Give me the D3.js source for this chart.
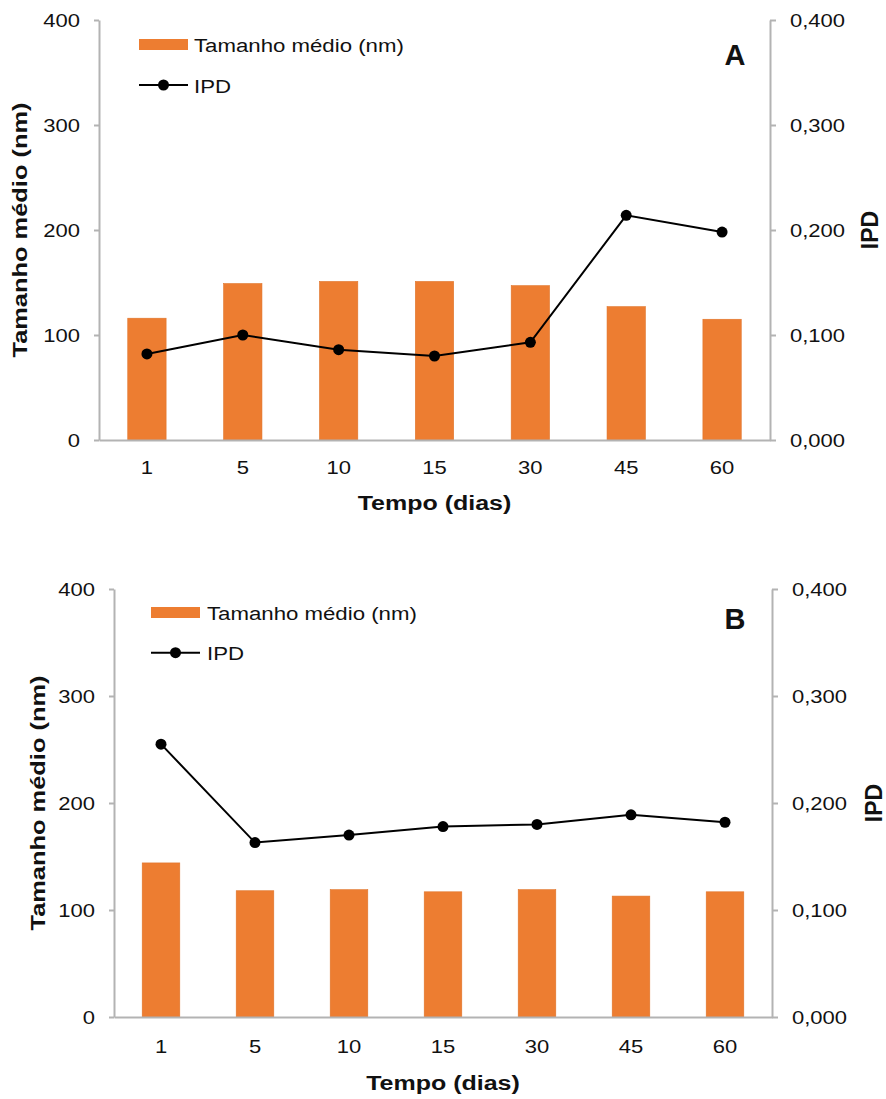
<!DOCTYPE html>
<html>
<head>
<meta charset="utf-8">
<script src="https://cdn.jsdelivr.net/npm/d3@7/dist/d3.min.js"></script>
<style>
  html, body { margin: 0; padding: 0; background: #fff; }
  svg { display: block; font-family: "Liberation Sans", Arial, sans-serif; }
</style>
</head>
<body>
<svg id="chart" width="886" height="1099"></svg>
<script>
// ---------------- DATA ----------------
const days = ["1", "5", "10", "15", "30", "45", "60"];
const sizeA = [116, 149, 151, 151, 147, 127, 115];
const ipdA  = [0.082, 0.100, 0.086, 0.080, 0.093, 0.214, 0.198];
const sizeB = [144, 118, 119, 117, 119, 113, 117];
const ipdB  = [0.255, 0.163, 0.170, 0.178, 0.180, 0.189, 0.182];
const sizeTicks = [0, 100, 200, 300, 400];
const ipdTicks = [0, 0.1, 0.2, 0.3, 0.4];
const ipdTickLabels = ["0,000", "0,100", "0,200", "0,300", "0,400"];
const panelLetters = ["A", "B"];
const seriesNames = ["Tamanho médio (nm)", "IPD"];
const xTitle = "Tempo (dias)";
const yLeftTitle = "Tamanho médio (nm)";
const yRightTitle = "IPD";

// ---------------- STYLE ----------------
const BAR = "#ED7D31";
const AXIS = "#b3b3b3";
const TXT = "#111";

const svg = d3.select("#chart");

function label(g, x, y, txt, o) {
  o = o || {};
  return g.append("text")
    .attr("transform", `translate(${x},${y}) rotate(${o.rotate || 0}) scale(${o.sx || 1},1)`)
    .attr("text-anchor", o.anchor || "start")
    .attr("dy", o.dy || 0)
    .attr("font-size", o.size || 18.5)
    .attr("font-weight", o.weight || "normal")
    .attr("fill", TXT)
    .text(txt);
}

function drawPanel(cfg, sizes, ipds, letter) {
  const g = svg.append("g");
  const x = d3.scaleBand().domain(days).range([cfg.left, cfg.right]).paddingInner(0.6).paddingOuter(0.3);
  const y = d3.scaleLinear().domain([0, 400]).range([cfg.bottom, cfg.top]);
  const y2 = d3.scaleLinear().domain([0, 0.4]).range([cfg.bottom, cfg.top]);

  // bars
  g.selectAll("rect.bar").data(sizes).join("rect")
    .attr("class", "bar")
    .attr("x", (d, i) => x(days[i]))
    .attr("width", x.bandwidth())
    .attr("y", d => y(d))
    .attr("height", d => y(0) - y(d))
    .attr("fill", BAR)
    .attr("stroke", "#e0742a")
    .attr("stroke-width", 0.6);

  // left axis
  const la = g.append("g").attr("transform", `translate(${cfg.left},0)`)
    .call(d3.axisLeft(y).tickValues(sizeTicks).tickSize(5).tickSizeOuter(0).tickFormat(""));
  // right axis
  const ra = g.append("g").attr("transform", `translate(${cfg.right},0)`)
    .call(d3.axisRight(y2).tickValues(ipdTicks).tickSize(6).tickSizeOuter(0).tickFormat(""));
  // bottom axis
  const ba = g.append("g").attr("transform", `translate(0,${cfg.bottom})`)
    .call(d3.axisBottom(x).tickSize(0).tickSizeOuter(0).tickFormat(""));
  [la, ra, ba].forEach(a => {
    a.selectAll("path.domain").attr("stroke", AXIS).attr("stroke-width", 2);
    a.selectAll(".tick line").attr("stroke", AXIS).attr("stroke-width", 2);
  });
  ba.raise();

  // tick labels
  sizeTicks.forEach(t => label(g, cfg.left - 19, y(t), String(t), {anchor: "end", dy: "0.36em", sx: 1.19}));
  ipdTicks.forEach((t, i) => label(g, cfg.right + 20, y2(t), ipdTickLabels[i], {anchor: "start", dy: "0.36em", sx: 1.19}));
  days.forEach(d => label(g, x(d) + x.bandwidth() / 2, cfg.bottom + cfg.xTickOff, d, {anchor: "middle", sx: 1.19}));

  // IPD line
  const line = d3.line().x((d, i) => x(days[i]) + x.bandwidth() / 2).y(d => y2(d));
  g.append("path").datum(ipds).attr("d", line).attr("fill", "none").attr("stroke", "#000").attr("stroke-width", 2);
  g.selectAll("circle.pt").data(ipds).join("circle")
    .attr("class", "pt")
    .attr("cx", (d, i) => x(days[i]) + x.bandwidth() / 2)
    .attr("cy", d => y2(d))
    .attr("r", 5.5)
    .attr("fill", "#000");

  // titles
  const midY = (cfg.top + cfg.bottom) / 2;
  const midX = (cfg.left + cfg.right) / 2;
  label(g, midX, cfg.bottom + cfg.xTitleOff, xTitle, {anchor: "middle", size: 20, weight: "bold", sx: 1.25});
  label(g, cfg.yTitleX, midY, yLeftTitle, {anchor: "middle", size: 20, weight: "bold", sx: 1.27, rotate: -90});
  label(g, cfg.ipdTitleX, midY, yRightTitle, {anchor: "middle", size: 23, weight: "bold", rotate: -90});
  label(g, cfg.letterX, cfg.letterY, letter, {anchor: "middle", size: 29, weight: "bold"});

  // legend
  const lx = cfg.legX, ly = cfg.legY;
  g.append("rect").attr("x", lx).attr("y", ly - 5.5).attr("width", 49).attr("height", 11).attr("fill", BAR);
  label(g, lx + cfg.legTextDx, ly + 7.5, seriesNames[0], {size: 19, sx: 1.17});
  const ly2 = ly + cfg.legGap;
  g.append("line").attr("x1", lx).attr("x2", lx + 49).attr("y1", ly2).attr("y2", ly2).attr("stroke", "#000").attr("stroke-width", 2);
  g.append("circle").attr("cx", lx + 24.5).attr("cy", ly2).attr("r", 5.5).attr("fill", "#000");
  label(g, lx + cfg.legTextDx, ly2 + 7.5, seriesNames[1], {size: 19, sx: 1.17});
}

drawPanel({left: 99, right: 770, top: 20, bottom: 440, xTickOff: 34, xTitleOff: 70,
           yTitleX: 27, ipdTitleX: 878, letterX: 735, letterY: 65,
           legX: 139, legY: 44.5, legGap: 40.5, legTextDx: 55},
          sizeA, ipdA, panelLetters[0]);
drawPanel({left: 114, right: 772, top: 589, bottom: 1017, xTickOff: 36, xTitleOff: 73,
           yTitleX: 45, ipdTitleX: 882, letterX: 735, letterY: 629,
           legX: 151, legY: 612.5, legGap: 40.2, legTextDx: 56},
          sizeB, ipdB, panelLetters[1]);
</script>
</body>
</html>
